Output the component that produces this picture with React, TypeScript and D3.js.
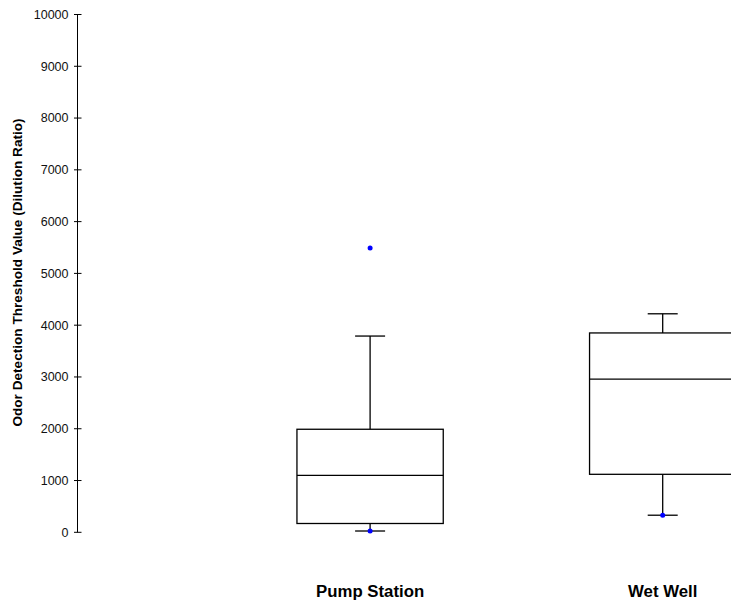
import React from "react";
import * as d3 from "d3";

const categories = ["Pump Station", "Wet Well"];
const whiskerLow = [25, 330];
const q1 = [170, 1120];
const median = [1100, 2960];
const q3 = [1990, 3850];
const whiskerHigh = [3790, 4220];
const outliers: number[][] = [[5490, 25], [330]];
const yTicks = [0, 1000, 2000, 3000, 4000, 5000, 6000, 7000, 8000, 9000, 10000];
const yTitle = "Odor Detection Threshold Value (Dilution Ratio)";

const W = 731;
const H = 603;

export default function App() {
  const axisX = 77.5;
  const y = d3.scaleLinear().domain([0, 10000]).range([532.3, 14.5]);
  const x = d3.scaleLinear().domain([0, 2]).range([axisX, 662.7]);
  const step = x(1) - x(0);
  const boxW = step / 2;
  const capW = 30;
  const font = "Arial, 'Liberation Sans', Helvetica, sans-serif";
  const sw = 1.3;

  return (
    <svg
      width={W}
      height={H}
      style={{ position: "absolute", left: 0, top: 0, background: "#fff" }}
    >
      <rect x={0} y={0} width={W} height={H} fill="#fff" />
      {/* y axis */}
      <line x1={axisX} x2={axisX} y1={y(10000)} y2={y(0)} stroke="#000" strokeWidth={1} />
      {yTicks.map((t) => (
        <g key={t}>
          <line x1={axisX - 3.5} x2={axisX + 4} y1={y(t)} y2={y(t)} stroke="#000" strokeWidth={1} />
          <text
            x={axisX - 9}
            y={y(t)}
            dy="0.35em"
            textAnchor="end"
            fontFamily={font}
            fontSize={12.5}
            fill="#111"
          >
            {t}
          </text>
        </g>
      ))}
      <text
        transform={`translate(17.5,${272.5}) rotate(-90)`}
        textAnchor="middle"
        dy="0.35em"
        fontFamily={font}
        fontSize={13.6}
        fontWeight="bold"
        fill="#000"
      >
        {yTitle}
      </text>
      {categories.map((c, i) => {
        const cx = x(i + 1);
        return (
          <g key={c}>
            <line x1={cx} x2={cx} y1={y(q3[i])} y2={y(whiskerHigh[i])} stroke="#000" strokeWidth={sw} />
            <line x1={cx} x2={cx} y1={y(q1[i])} y2={y(whiskerLow[i])} stroke="#000" strokeWidth={sw} />
            <line x1={cx - capW / 2} x2={cx + capW / 2} y1={y(whiskerHigh[i])} y2={y(whiskerHigh[i])} stroke="#000" strokeWidth={sw} />
            <line x1={cx - capW / 2} x2={cx + capW / 2} y1={y(whiskerLow[i])} y2={y(whiskerLow[i])} stroke="#000" strokeWidth={sw} />
            <rect
              x={cx - boxW / 2}
              y={y(q3[i])}
              width={boxW}
              height={y(q1[i]) - y(q3[i])}
              fill="none"
              stroke="#000"
              strokeWidth={sw}
            />
            <line x1={cx - boxW / 2} x2={cx + boxW / 2} y1={y(median[i])} y2={y(median[i])} stroke="#000" strokeWidth={sw} />
            {outliers[i].map((o, j) => (
              <circle key={j} cx={cx} cy={y(o)} r={2.5} fill="#0000ff" />
            ))}
            <text
              x={cx}
              y={597}
              textAnchor="middle"
              fontFamily={font}
              fontSize={16.8}
              fontWeight="bold"
              fill="#000"
            >
              {c}
            </text>
          </g>
        );
      })}
    </svg>
  );
}
